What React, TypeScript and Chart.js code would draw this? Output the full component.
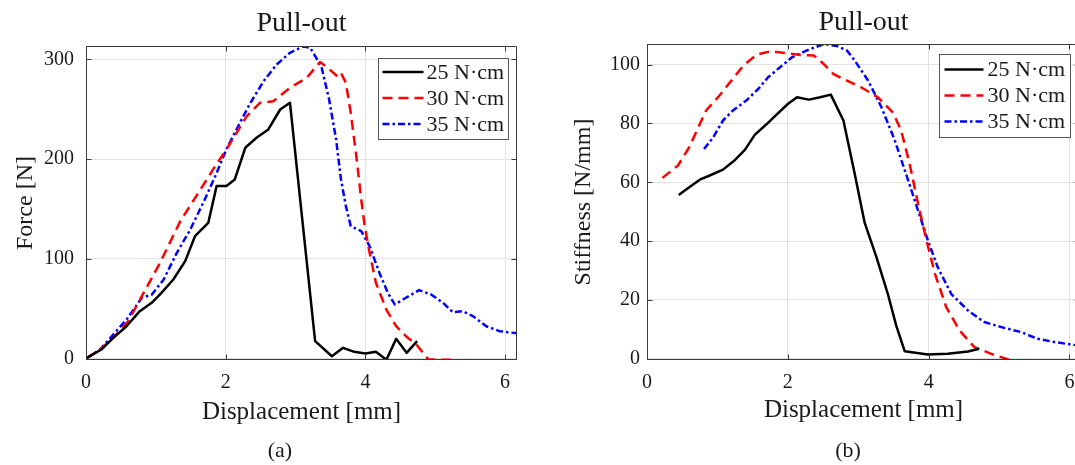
import React, { useEffect, useRef } from 'react';
import { Chart, registerables } from 'chart.js';

Chart.register(...registerables);

const FONT = '"Liberation Serif", "Times New Roman", serif';
const TEXT_COLOR = '#1a1a1a';
const AXIS_COLOR = '#3a3a3a';
const GRID_COLOR = '#e2e2e2';

const seriesLabels = ['25 N·cm', '30 N·cm', '35 N·cm'];
const seriesColors = ['#000000', '#ff0000', '#0000ff'];
const seriesDashes: number[][] = [[], [10, 6], [7, 3, 2.5, 3]];

const chartTitles = ['Pull-out', 'Pull-out'];
const xAxisTitle = 'Displacement [mm]';
const yAxisTitles = ['Force [N]', 'Stiffness [N/mm]'];
const captions = ['(a)', '(b)'];

// ---- (a) Force vs displacement ----
const force25X = [0, 0.22, 0.39, 0.58, 0.77, 0.94, 1.08, 1.25, 1.42, 1.56, 1.75, 1.87, 2.01, 2.13, 2.28, 2.44, 2.61, 2.78, 2.92, 3.28, 3.52, 3.68, 3.84, 4.0, 4.15, 4.3, 4.44, 4.59, 4.74];
const force25Y = [0, 9, 20.7, 32.4, 47.5, 55.9, 65.9, 79.3, 97.7, 122.7, 136, 173, 173, 179.6, 211.4, 221.4, 229.8, 249.8, 256.5, 17.4, 2.3, 10.7, 6.7, 5, 6.7, -1.2, 19.7, 5.7, 17.4];

const force30X = [0, 0.2, 0.39, 0.6, 0.8, 1.06, 1.35, 1.58, 1.85, 2.01, 2.3, 2.49, 2.68, 2.92, 3.16, 3.35, 3.46, 3.6, 3.65, 3.72, 3.79, 3.87, 3.94, 3.99, 4.06, 4.15, 4.3, 4.44, 4.58, 4.73, 4.9, 5.01, 5.27];
const force30Y = [0, 9, 20.7, 37, 62.5, 96, 137.8, 163, 193, 209.7, 243, 256.5, 258, 271.6, 281.6, 297.5, 291.6, 283, 286.6, 276.6, 246.5, 203, 159.5, 132.8, 106, 76, 49, 32.4, 22.4, 14, -0.8, -1.2, -1.2];

const force35X = [0, 0.2, 0.39, 0.58, 0.8, 0.94, 1.11, 1.3, 1.49, 1.7, 1.87, 2.01, 2.2, 2.35, 2.54, 2.73, 2.92, 3.11, 3.21, 3.37, 3.48, 3.58, 3.65, 3.72, 3.79, 3.94, 4.06, 4.2, 4.32, 4.42, 4.58, 4.77, 4.94, 5.11, 5.25, 5.39, 5.54, 5.73, 5.92, 6.19];
const force35Y = [0, 9, 24, 39, 61, 64, 79, 106, 129, 159.5, 186, 210, 236, 256, 278, 295, 306.7, 313, 311.7, 293, 260, 220, 179.6, 153, 132.8, 127.8, 112.7, 86, 66, 54.2, 60.9, 68.6, 64.2, 55.9, 46.5, 47.5, 42.5, 32.4, 27.4, 25.1];

// ---- (b) Stiffness vs displacement ----
const stiff25X = [0.45, 0.6, 0.75, 0.89, 1.08, 1.25, 1.39, 1.53, 1.7, 1.84, 2.0, 2.13, 2.3, 2.46, 2.61, 2.79, 2.95, 3.09, 3.26, 3.42, 3.54, 3.66, 3.99, 4.27, 4.56, 4.72];
const stiff25Y = [55.7, 58.3, 60.9, 62.3, 64.3, 67.6, 71, 76.1, 79.8, 83, 86.6, 88.9, 88.1, 88.9, 89.8, 81, 62.9, 46.4, 34.5, 22.1, 11.3, 2.6, 1.5, 1.7, 2.5, 3.4];

const stiff30X = [0.22, 0.44, 0.6, 0.75, 0.84, 1.03, 1.2, 1.37, 1.56, 1.75, 1.99, 2.18, 2.37, 2.51, 2.65, 2.8, 3.04, 3.28, 3.49, 3.61, 3.73, 3.85, 3.97, 4.09, 4.25, 4.44, 4.65, 4.89, 5.13, 5.2];
const stiff30Y = [61.5, 65.7, 71.9, 79.8, 84.4, 89.5, 94.6, 99.7, 103.4, 104.5, 103.9, 103.3, 103.1, 100.2, 96.8, 95, 92.3, 88.9, 83.8, 77.6, 66.3, 52.7, 40.2, 28.9, 17.6, 9.6, 4, 1.7, -0.2, -0.3];

const stiff35X = [0.81, 0.94, 1.08, 1.22, 1.41, 1.58, 1.72, 1.89, 2.06, 2.27, 2.51, 2.7, 2.84, 2.95, 3.14, 3.33, 3.52, 3.71, 3.85, 3.99, 4.13, 4.32, 4.56, 4.79, 5.03, 5.31, 5.55, 5.79, 6.15];
const stiff35Y = [71.3, 75.3, 81, 84.4, 87.8, 91.7, 95.7, 99.1, 102.5, 104.8, 107, 106.3, 104.8, 101.4, 94.6, 85.5, 74.2, 60.6, 50.4, 40.2, 31.1, 22.1, 16.4, 12.5, 10.8, 9.1, 6.8, 5.7, 4.4];

const forceSeriesX = [force25X, force30X, force35X];
const forceSeriesY = [force25Y, force30Y, force35Y];
const stiffSeriesX = [stiff25X, stiff30X, stiff35X];
const stiffSeriesY = [stiff25Y, stiff30Y, stiff35Y];

const xTickStep = 2;
const forceTickStep = 100;
const stiffTickStep = 20;

type LegendLayout = { dx: number; dy: number; w: number; h: number; lineX0: number; lineX1: number; textX: number; row0: number; rowGap: number };

type PanelSpec = {
  canvasLeft: number;
  canvasW: number;
  canvasH: number;
  yAxisWidth: number;
  xAxisHeight: number;
  padRight: number;
  titlePadTop: number;
  titlePadBottom: number;
  yTickPad: number;
  yTitlePad: number;
  xTickPad: number;
  xTitlePadBottom: number;
  xMax: number;
  yMin: number;
  yMax: number;
  yStep: number;
  title: string;
  yTitle: string;
  xs: number[][];
  ys: number[][];
  legend: LegendLayout;
};

const TICK_LEN = 5;

function framePlugin(legend: LegendLayout) {
  return {
    id: 'frameLegend',
    afterDatasetsDraw(chart: any) {
      const { ctx, chartArea: a } = chart;
      const xs = chart.scales.x;
      const ys = chart.scales.y;
      ctx.save();
      ctx.setLineDash([]);
      ctx.strokeStyle = AXIS_COLOR;
      ctx.lineWidth = 1;
      const L = Math.round(a.left) + 0.5;
      const R = Math.round(a.right) - 0.5;
      const T = Math.round(a.top) + 0.5;
      const B = Math.round(a.bottom) - 0.5;
      ctx.beginPath();
      ctx.rect(L, T, R - L, B - T);
      xs.ticks.forEach((t: any) => {
        const px = Math.round(xs.getPixelForValue(t.value)) + 0.5;
        ctx.moveTo(px, B);
        ctx.lineTo(px, B - TICK_LEN);
        ctx.moveTo(px, T);
        ctx.lineTo(px, T + TICK_LEN);
      });
      ys.ticks.forEach((t: any) => {
        const py = Math.round(ys.getPixelForValue(t.value)) + 0.5;
        ctx.moveTo(L, py);
        ctx.lineTo(L + TICK_LEN, py);
        ctx.moveTo(R, py);
        ctx.lineTo(R - TICK_LEN, py);
      });
      ctx.stroke();

      // legend box
      const bx = Math.round(a.right - legend.dx - legend.w) + 0.5;
      const by = Math.round(a.top + legend.dy) + 0.5;
      ctx.fillStyle = '#ffffff';
      ctx.fillRect(bx, by, legend.w, legend.h);
      ctx.strokeStyle = '#555555';
      ctx.lineWidth = 1;
      ctx.strokeRect(bx, by, legend.w, legend.h);
      chart.data.datasets.forEach((ds: any, i: number) => {
        const y = by + legend.row0 + i * legend.rowGap;
        ctx.beginPath();
        ctx.setLineDash(ds.borderDash || []);
        ctx.strokeStyle = ds.borderColor;
        ctx.lineWidth = ds.borderWidth;
        ctx.moveTo(bx + legend.lineX0, y);
        ctx.lineTo(bx + legend.lineX1, y);
        ctx.stroke();
        ctx.setLineDash([]);
        ctx.fillStyle = TEXT_COLOR;
        ctx.font = `22px ${FONT}`;
        ctx.textBaseline = 'middle';
        ctx.textAlign = 'left';
        ctx.fillText(ds.label, bx + legend.textX, y + 1);
      });
      ctx.restore();
    },
  };
}

function Panel({ spec }: { spec: PanelSpec }) {
  const ref = useRef<HTMLCanvasElement | null>(null);
  useEffect(() => {
    if (!ref.current) return;
    const datasets = seriesLabels.map((label, i) => ({
      label,
      data: spec.xs[i].map((x, j) => ({ x, y: spec.ys[i][j] })),
      borderColor: seriesColors[i],
      backgroundColor: seriesColors[i],
      borderWidth: 2.5,
      borderDash: seriesDashes[i],
      borderJoinStyle: 'round' as const,
      pointRadius: 0,
      tension: 0,
      fill: false,
    }));
    const chart = new Chart(ref.current, {
      type: 'line',
      data: { datasets },
      options: {
        animation: false,
        responsive: false,
        maintainAspectRatio: false,
        layout: { padding: { left: 0, right: spec.padRight, top: 0, bottom: 0 } },
        plugins: {
          legend: { display: false },
          tooltip: { enabled: false },
          title: {
            display: true,
            text: spec.title,
            fullSize: false,
            color: TEXT_COLOR,
            font: { family: FONT, size: 28, weight: 'normal', lineHeight: 1 },
            padding: { top: spec.titlePadTop, bottom: spec.titlePadBottom },
          },
        },
        scales: {
          x: {
            type: 'linear',
            min: 0,
            max: spec.xMax,
            afterFit: (s: any) => {
              s.height = spec.xAxisHeight;
            },
            ticks: {
              stepSize: xTickStep,
              includeBounds: false,
              color: TEXT_COLOR,
              padding: spec.xTickPad,
              maxRotation: 0,
              font: { family: FONT, size: 20, lineHeight: 1 },
            },
            grid: { color: GRID_COLOR, drawTicks: false, lineWidth: 1 },
            border: { display: false },
            title: {
              display: true,
              text: xAxisTitle,
              color: TEXT_COLOR,
              font: { family: FONT, size: 25, lineHeight: 1 },
              padding: { top: 0, bottom: spec.xTitlePadBottom },
            },
          },
          y: {
            type: 'linear',
            min: spec.yMin,
            max: spec.yMax,
            afterFit: (s: any) => {
              s.width = spec.yAxisWidth;
            },
            ticks: {
              stepSize: spec.yStep,
              includeBounds: false,
              color: TEXT_COLOR,
              padding: spec.yTickPad,
              font: { family: FONT, size: 20, lineHeight: 1 },
            },
            grid: { color: GRID_COLOR, drawTicks: false, lineWidth: 1 },
            border: { display: false },
            title: {
              display: true,
              text: spec.yTitle,
              color: TEXT_COLOR,
              font: { family: FONT, size: 24, lineHeight: 1 },
              padding: { top: spec.yTitlePad, bottom: 0 },
            },
          },
        },
      } as any,
      plugins: [framePlugin(spec.legend)],
    });
    return () => chart.destroy();
  }, [spec]);
  return (
    <canvas
      ref={ref}
      width={spec.canvasW}
      height={spec.canvasH}
      style={{ position: 'absolute', left: spec.canvasLeft, top: 0, width: spec.canvasW, height: spec.canvasH }}
    />
  );
}

const leftSpec: PanelSpec = {
  canvasLeft: 0,
  canvasW: 540,
  canvasH: 440,
  yAxisWidth: 86,
  xAxisHeight: 80,
  padRight: 23,
  titlePadTop: 10,
  titlePadBottom: 8,
  yTickPad: 12,
  yTitlePad: 14,
  xTickPad: 13,
  xTitlePadBottom: 15,
  xMax: 6.17,
  yMin: -1.5,
  yMax: 313.5,
  yStep: forceTickStep,
  title: chartTitles[0],
  yTitle: yAxisTitles[0],
  xs: forceSeriesX,
  ys: forceSeriesY,
  legend: { dx: 9, dy: 12, w: 130, h: 81, lineX0: 4, lineX1: 45, textX: 48, row0: 13.5, rowGap: 26 },
};

const rightSpec: PanelSpec = {
  canvasLeft: 540,
  canvasW: 560,
  canvasH: 440,
  yAxisWidth: 107,
  xAxisHeight: 80,
  padRight: 20,
  titlePadTop: 9,
  titlePadBottom: 7,
  yTickPad: 7,
  yTitlePad: 32,
  xTickPad: 13,
  xTitlePadBottom: 17,
  xMax: 6.15,
  yMin: -0.4,
  yMax: 107,
  yStep: stiffTickStep,
  title: chartTitles[1],
  yTitle: yAxisTitles[1],
  xs: stiffSeriesX,
  ys: stiffSeriesY,
  legend: { dx: 10, dy: 10, w: 131, h: 83, lineX0: 5, lineX1: 44, textX: 48, row0: 15, rowGap: 26 },
};

export default function App() {
  const captionStyle = (cx: number): React.CSSProperties => ({
    position: 'absolute',
    left: cx - 40,
    top: 437,
    width: 80,
    textAlign: 'center',
    fontFamily: FONT,
    fontSize: 22,
    lineHeight: '26px',
    color: TEXT_COLOR,
  });
  return (
    <div style={{ position: 'absolute', left: 0, top: 0, width: 1075, height: 465, overflow: 'hidden', background: '#fff' }}>
      <Panel spec={leftSpec} />
      <Panel spec={rightSpec} />
      <div style={captionStyle(280)}>{captions[0]}</div>
      <div style={captionStyle(848)}>{captions[1]}</div>
    </div>
  );
}
